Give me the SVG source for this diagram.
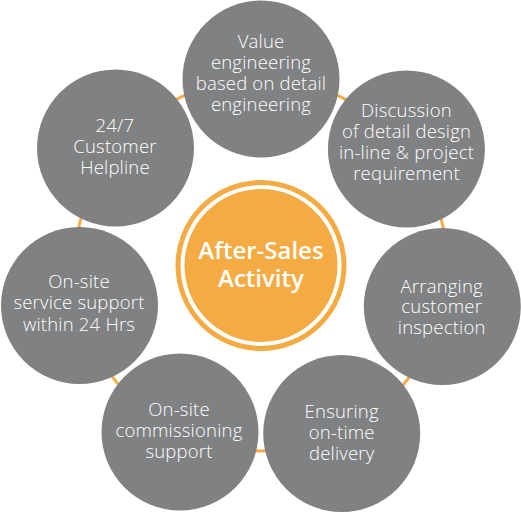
<svg xmlns="http://www.w3.org/2000/svg" width="521" height="513" viewBox="0 0 521 513">
<style>
.node circle{fill:#808182}
.node text{font-family:"Open Sans","Liberation Sans",sans-serif;font-size:18.5px;font-weight:300;letter-spacing:0.2px;fill:#ffffff;text-anchor:middle}
.center text{font-family:"Open Sans","Liberation Sans",sans-serif;font-size:24px;font-weight:600;fill:#ffffff;text-anchor:middle}
</style>
<rect width="521" height="513" fill="#ffffff"/>
<g id="connectors">
<circle cx="261" cy="265" r="186" fill="none" stroke="#F4AB43" stroke-width="3"/>
</g>
<g id="center" class="center">
<circle cx="261" cy="265.5" r="83" fill="none" stroke="#F4AB43" stroke-width="5"/>
<circle cx="261" cy="265.5" r="76.5" fill="#F4AB43"/>
<text x="261" y="258.5">After-Sales</text>
<text x="261" y="287">Activity</text>
</g>
<g id="n1" class="node">
<circle cx="261" cy="79" r="78.5"/>
<text x="261" y="47.7">Value</text>
<text x="261" y="68.5">engineering</text>
<text x="261" y="90">based on detail</text>
<text x="261" y="111">engineering</text>
</g>
<g id="n2" class="node">
<circle cx="406.4" cy="149" r="78.5"/>
<text x="406.5" y="116.7">Discussion</text>
<text x="406.5" y="137.5">of detail design</text>
<text x="406.5" y="159">in-line &amp; project</text>
<text x="406.5" y="180.3">requirement</text>
</g>
<g id="n3" class="node">
<circle cx="442.3" cy="306.5" r="78.5"/>
<text x="441.7" y="292.7">Arranging</text>
<text x="441.7" y="312.7">customer</text>
<text x="441.7" y="334.3">inspection</text>
</g>
<g id="n4" class="node">
<circle cx="341.7" cy="433.5" r="78.5"/>
<text x="341.7" y="417.7">Ensuring</text>
<text x="341.7" y="439.3">on-time</text>
<text x="341.7" y="460">delivery</text>
</g>
<g id="n5" class="node">
<circle cx="180" cy="432" r="78.5"/>
<text x="179" y="415.7">On-site</text>
<text x="179" y="436.7">commissioning</text>
<text x="179" y="457.7">support</text>
</g>
<g id="n6" class="node">
<circle cx="79.5" cy="305.5" r="78.5"/>
<text x="79" y="288.3">On-site</text>
<text x="79" y="309.3">service support</text>
<text x="79" y="331">within 24 Hrs</text>
</g>
<g id="n7" class="node">
<circle cx="115.5" cy="148" r="78.5"/>
<text x="115" y="131.7">24/7</text>
<text x="115" y="152.7">Customer</text>
<text x="115" y="174.3">Helpline</text>
</g>
</svg>
